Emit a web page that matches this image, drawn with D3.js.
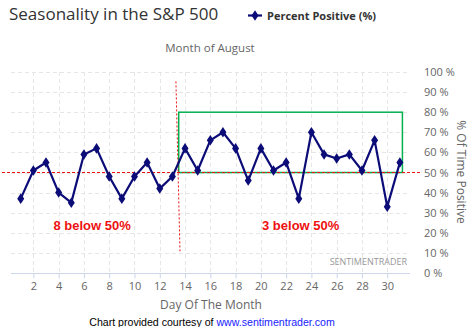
<!DOCTYPE html>
<html><head><meta charset="utf-8">
<script src="https://cdn.jsdelivr.net/npm/d3@7"></script>
<style>body{margin:0;background:#fff}svg{display:block}</style>
</head><body>
<script>
const days = d3.range(1, 32);
const percentPositive = [37,51,55,40,35,59,62,48,37,48,55,42,48,62,51,66,70,62,46,62,51,55,37,70,59,57,59,51,66,33,55];
const yTicks = [0,10,20,30,40,50,60,70,80,90,100];
const xTicks = [2,4,6,8,10,12,14,16,18,20,22,24,26,28,30];
const annotations = [{text:"8 below 50%", day:6.65, value:21.5},{text:"3 below 50%", day:23.15, value:21.5}];
const boxDays = [13.5, 31.2], boxValues = [50, 80];

const W = 470, H = 327;
const svg = d3.select("body").append("svg").attr("width", W).attr("height", H);
svg.append("rect").attr("width", W).attr("height", H).attr("fill", "#fff");

const x = d3.scaleLinear().domain([0.23, 31.8]).range([11, 410]);
const y = d3.scaleLinear().domain([0, 100]).range([273, 72]);

// grid
const g = svg.append("g");
g.selectAll(".hg").data(yTicks.filter(v => v > 0)).join("line")
  .attr("x1", 11).attr("x2", 410).attr("y1", d => Math.round(y(d)) + 0.5).attr("y2", d => Math.round(y(d)) + 0.5)
  .attr("stroke", "#e6e6e6").attr("stroke-dasharray", "4,3");
g.selectAll(".vg").data(xTicks).join("line")
  .attr("y1", 72).attr("y2", 273).attr("x1", d => Math.round(x(d)) + 0.5).attr("x2", d => Math.round(x(d)) + 0.5)
  .attr("stroke", "#e6e6e6").attr("stroke-dasharray", "4,3");

// x axis
const xAxis = d3.axisBottom(x).tickValues(xTicks).tickSize(5).tickPadding(4);
const xa = svg.append("g").attr("transform", "translate(0,273.5)").call(xAxis);
xa.select(".domain").attr("stroke", "#ccd6eb").attr("d", "M11,0H410");
xa.selectAll(".tick line").attr("stroke", "#ccd6eb");
xa.selectAll("text").attr("fill", "#666").style("font", "11px 'Open Sans'");

// y axis right
const yAxis = d3.axisRight(y).tickValues(yTicks).tickSize(0).tickPadding(0).tickFormat(d => d + " %");
const ya = svg.append("g").attr("transform", "translate(424,0)").call(yAxis);
ya.select(".domain").remove();
ya.selectAll("text").attr("fill", "#666").style("font", "11px 'Open Sans'");

// axis titles
svg.append("text").attr("x", 211).attr("y", 309).attr("text-anchor", "middle")
  .attr("fill", "#666").style("font", "12px 'Open Sans'").text("Day Of The Month");
svg.append("text").attr("transform", "translate(457,172) rotate(90)").attr("text-anchor", "middle")
  .attr("fill", "#666").style("font", "12px 'Open Sans'").text("% Of Time Positive");

// green box
svg.append("rect").attr("x", x(boxDays[0])).attr("y", y(boxValues[1]))
  .attr("width", x(boxDays[1]) - x(boxDays[0])).attr("height", y(boxValues[0]) - y(boxValues[1]))
  .attr("fill", "none").attr("stroke", "#00b050").attr("stroke-width", 1.5);

// 50% line
svg.append("line").attr("x1", 2).attr("x2", 420).attr("y1", y(50)).attr("y2", y(50))
  .attr("stroke", "#ee1111").attr("stroke-width", 1).attr("stroke-dasharray", "3,2");

// vertical red line
svg.append("line").attr("x1", x(13.28)).attr("y1", y(95.3)).attr("x2", x(13.6)).attr("y2", y(10.8))
  .attr("stroke", "#ee1111").attr("stroke-width", 1).attr("stroke-dasharray", "2,2");

// series
const line = d3.line().x((d, i) => x(days[i])).y(d => y(d));
svg.append("path").datum(percentPositive).attr("d", line).attr("fill", "none")
  .attr("stroke", "#0c0c78").attr("stroke-width", 2.2).attr("stroke-linejoin", "round");
const sym = d3.symbol().type(d3.symbolDiamond).size(32);
svg.selectAll(".pt").data(percentPositive).join("path")
  .attr("transform", (d, i) => `translate(${x(days[i])},${y(d)}) scale(1.15,1)`)
  .attr("d", sym).attr("fill", "#0c0c78");

// annotations
svg.selectAll(".ann").data(annotations).join("text")
  .attr("x", d => x(d.day)).attr("y", d => y(d.value)).attr("text-anchor", "middle")
  .attr("fill", "#ee1111").style("font", "bold 13px 'Liberation Sans', Arial").text(d => d.text);

svg.append("text").attr("x", 407).attr("y", 265).attr("text-anchor", "end")
  .attr("fill", "#999").style("font", "9px 'Open Sans'").text("SENTIMENTRADER");

// title
svg.append("text").attr("x", 9).attr("y", 20).attr("fill", "#333")
  .style("font", "17px 'Open Sans'").text("Seasonality in the S&P 500");
svg.append("text").attr("x", 210).attr("y", 52).attr("text-anchor", "middle").attr("fill", "#666")
  .style("font", "11.5px 'Open Sans'").text("Month of August");

// legend
svg.append("line").attr("x1", 248).attr("x2", 262).attr("y1", 15.5).attr("y2", 15.5)
  .attr("stroke", "#0c0c78").attr("stroke-width", 2.2);
svg.append("path").attr("transform", "translate(255,15.5) scale(1.15,1)").attr("d", sym).attr("fill", "#0c0c78");
svg.append("text").attr("x", 267).attr("y", 19.5).attr("fill", "#333")
  .style("font", "bold 11px 'Open Sans'").text("Percent Positive (%)");

// footer
const ft = svg.append("text").attr("x", 212).attr("y", 326).attr("text-anchor", "middle")
  .style("font", "10.6px 'Liberation Sans', Arial");
ft.append("tspan").attr("fill", "#000").text("Chart provided courtesy of ");
ft.append("tspan").attr("fill", "#1a1aff").text("www.sentimentrader.com");
</script>
</body></html>
